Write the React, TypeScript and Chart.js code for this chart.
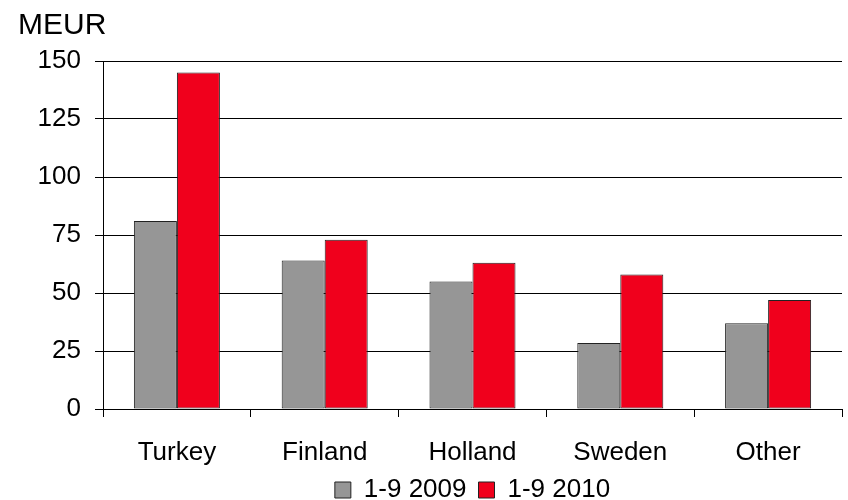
import React, { useEffect, useRef } from "react";
import { Chart, registerables } from "chart.js";

Chart.register(...registerables);

const categories = ["Turkey", "Finland", "Holland", "Sweden", "Other"];
const series2009 = [81, 64, 55, 28.5, 37];
const series2010 = [145, 73, 63, 58, 47];
const seriesLabels = ["1-9 2009", "1-9 2010"];
const yTicks = [0, 25, 50, 75, 100, 125, 150];
const unitLabel = "MEUR";

const FONT = "'Liberation Sans', Arial, sans-serif";

const unitPlugin = {
  id: "unitLabel",
  afterDraw(chart: any) {
    const ctx = chart.ctx;
    ctx.save();
    ctx.font = `30px ${FONT}`;
    ctx.fillStyle = "#000";
    ctx.textAlign = "left";
    ctx.textBaseline = "alphabetic";
    ctx.fillText(unitLabel, 18, 34);
    ctx.restore();
  },
};

export default function App() {
  const ref = useRef<HTMLCanvasElement>(null);
  useEffect(() => {
    if (!ref.current) return;
    const chart = new Chart(ref.current, {
      type: "bar",
      data: {
        labels: categories,
        datasets: [
          {
            label: seriesLabels[0],
            data: series2009,
            backgroundColor: "#969696",
            borderColor: "#222",
            borderWidth: 1,
            borderSkipped: false,
            categoryPercentage: 0.582,
            barPercentage: 1,
          },
          {
            label: seriesLabels[1],
            data: series2010,
            backgroundColor: "#F0001C",
            borderColor: "#222",
            borderWidth: 1,
            borderSkipped: false,
            categoryPercentage: 0.582,
            barPercentage: 1,
          },
        ],
      },
      options: {
        animation: false,
        responsive: false,
        maintainAspectRatio: false,
        layout: { padding: { top: 61, right: 6, left: 0, bottom: -13 } },
        plugins: {
          legend: {
            position: "bottom",
            fullSize: false,
            labels: {
              font: { family: FONT, size: 26 },
              color: "#000",
              boxWidth: 16,
              boxHeight: 16,
              padding: 12,
            },
          },
          tooltip: { enabled: false },
          title: { display: false },
        },
        scales: {
          x: {
            afterFit: (s: any) => {
              s.height = 56;
            },
            grid: {
              display: true,
              drawOnChartArea: false,
              offset: true,
              tickLength: 8,
              color: "#000",
            },
            border: { display: true, color: "#000", width: 1 },
            ticks: {
              font: { family: FONT, size: 26, lineHeight: 1 },
              color: "#000",
              padding: 23,
              maxRotation: 0,
            },
          },
          y: {
            min: 0,
            max: 150,
            afterFit: (s: any) => {
              s.width = 103;
            },
            afterBuildTicks: (s: any) => {
              s.ticks = yTicks.map((v) => ({ value: v }));
            },
            grid: { color: "#000", tickLength: 8 },
            border: { display: true, color: "#000", width: 1 },
            ticks: {
              font: { family: FONT, size: 26 },
              color: "#000",
              padding: 14,
            },
          },
        },
      },
      plugins: [unitPlugin],
    });
    return () => chart.destroy();
  }, []);
  return (
    <div style={{ position: "absolute", left: 0, top: 0, width: 848, height: 500, background: "#fff" }}>
      <canvas ref={ref} width={848} height={500} style={{ width: 848, height: 500 }} />
    </div>
  );
}
